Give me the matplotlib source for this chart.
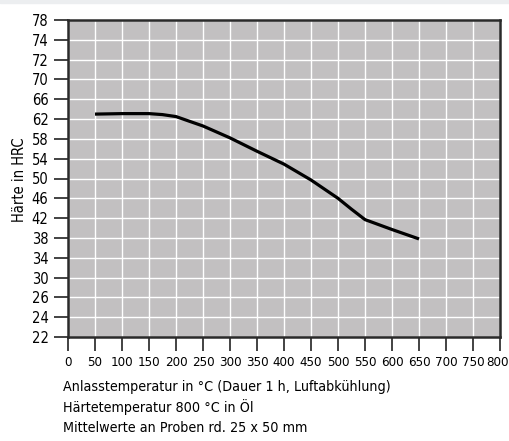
import matplotlib
matplotlib.use("Agg")
import matplotlib.pyplot as plt
import numpy as np
from matplotlib.transforms import ScaledTranslation

# tempering temperature in degC vs hardness in HRC
temps = [50, 100, 150, 175, 200, 250, 300, 350, 400, 450, 500, 525, 550, 600, 650]
hrc = [63.0, 63.1, 63.1, 62.9, 62.5, 60.6, 58.2, 55.5, 52.9, 49.7, 46.0, 43.8, 41.7, 39.7, 37.8]

# y axis labels are evenly spaced although the values are not
y_labels = [22, 24, 26, 30, 34, 38, 42, 46, 50, 54, 58, 62, 66, 70, 72, 74, 78]
x_ticks = list(range(0, 801, 50))

plt.rcParams["font.family"] = ["DejaVu Sans"]
plt.rcParams["font.stretch"] = "condensed"

fig = plt.figure(figsize=(5.10, 4.41), dpi=100)
# thin light strip along the top edge
fig.patches.append(plt.Rectangle((0, 1 - 3 / 441), 1, 3 / 441, transform=fig.transFigure,
                                 color="#eceef0", zorder=0))
ax = fig.add_axes([68 / 510, 1 - 337 / 441, 432 / 510, 317 / 441])

pos = np.arange(len(y_labels))
y_pos = np.interp(hrc, y_labels, pos)

ax.set_facecolor("#c2c0c1")
ax.plot(temps, y_pos, color="black", lw=2.3, solid_capstyle="butt", zorder=3)

ax.set_xlim(0, 800)
ax.set_ylim(0, len(y_labels) - 1)
ax.set_xticks(x_ticks)
ax.set_yticks(pos)
ax.set_yticklabels([str(v) for v in y_labels])
ax.tick_params(axis="both", direction="out", length=10, width=1.2, colors="#222222",
               labelcolor="black")
ax.tick_params(axis="x", pad=4, labelsize=9.5)
ax.tick_params(axis="y", pad=4, labelsize=10.5)
# nudge the last x label so it stays inside the picture
last = ax.get_xticklabels()[-1]
last.set_transform(last.get_transform() + ScaledTranslation(-2 / 100, 0, fig.dpi_scale_trans))
ax.grid(True, color="white", lw=1.0)
ax.set_axisbelow(True)
for s in ax.spines.values():
    s.set_color("#2a2a2a")
    s.set_linewidth(1.8)

fig.text(20 / 510, 1 - 180 / 441, "Härte in HRC", rotation=90, ha="center", va="center", fontsize=10.5)
lines = ["Anlasstemperatur in °C (Dauer 1 h, Luftabkühlung)",
         "Härtetemperatur 800 °C in Öl",
         "Mittelwerte an Proben rd. 25 x 50 mm"]
for i, t in enumerate(lines):
    fig.text(63 / 510, 1 - (387 + 20.5 * i) / 441, t, ha="left", va="center", fontsize=10.3)

fig.savefig("out.png", dpi=100)
